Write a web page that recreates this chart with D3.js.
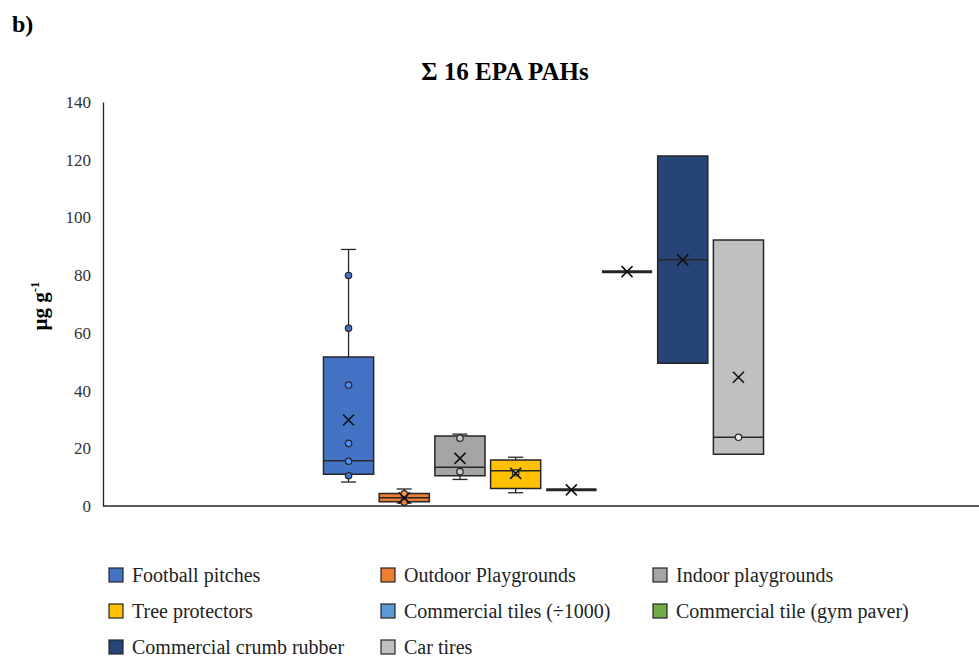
<!DOCTYPE html>
<html>
<head>
<meta charset="utf-8">
<script src="https://cdn.jsdelivr.net/npm/d3@7"></script>
<style>
  body { margin: 0; background: #fff; }
</style>
</head>
<body>
<script>
//chart data
var categories = ["Football pitches", "Outdoor Playgrounds", "Indoor playgrounds", "Tree protectors",
                  "Commercial tiles (\u00F71000)", "Commercial tile (gym paver)", "Commercial crumb rubber", "Car tires"];
var colors = ["#4472C4", "#ED7D31", "#A5A5A5", "#FFC000", "#5B9BD5", "#70AD47", "#264478", "#C0C0C0"];
var whiskerLow  = [8.3, 1.0, 9.2, 4.6, 5.6, 81.2, 49.5, 17.9];
var q1          = [11.0, 1.5, 10.5, 6.1, 5.6, 81.2, 49.5, 17.9];
var median      = [15.7, 2.9, 13.4, 12.2, 5.6, 81.2, 85.3, 23.8];
var q3          = [51.6, 4.3, 24.3, 15.9, 5.6, 81.2, 121.3, 92.2];
var whiskerHigh = [88.9, 5.9, 24.9, 16.9, 5.6, 81.2, 121.3, 92.2];
var means       = [29.8, 2.8, 16.5, 11.3, 5.6, 81.2, 85.3, 44.6];
var points      = [[79.9, 61.6, 41.9, 21.7, 15.5, 10.5], [4.2, 1.3], [23.5, 11.9], [11.5], [], [], [], [23.8]];
var yTicks = [0, 20, 40, 60, 80, 100, 120, 140];

window.onload = drawChart();

function drawChart(){

    var width = 979,
        height = 660;

    var plotLeft = 103, plotRight = 984, plotTop = 102, plotBottom = 506;
    var serif = "Liberation Serif";

    var svg = d3.select("body")
        .append("svg")
        .attr("width", width)
        .attr("height", height)
        .attr("font-family", serif);

    //y scale
    var y = d3.scaleLinear()
        .domain([0, 140])
        .range([plotBottom, plotTop]);

    //boxes grouped in the middle of the plot, like excel does
    var step = 55.7;
    var groupWidth = step * categories.length;
    var mid = (plotLeft + plotRight) / 2;
    var x = d3.scaleBand()
        .domain(categories)
        .range([mid - groupWidth / 2, mid + groupWidth / 2])
        .paddingInner(0.1)
        .paddingOuter(0.05);

    var boxW = x.bandwidth();
    var ink = "#262626";

    //label b)
    svg.append("text")
        .attr("x", 12)
        .attr("y", 32)
        .attr("font-family", serif)
        .attr("font-size", 24)
        .attr("font-weight", "bold")
        .text("b)");

    //title
    svg.append("text")
        .attr("x", 505)
        .attr("y", 80)
        .attr("text-anchor", "middle")
        .attr("font-family", serif)
        .attr("font-size", 25)
        .attr("font-weight", "bold")
        .text("\u03A3 16 EPA PAHs");

    //y axis
    var yAxis = d3.axisLeft(y)
        .tickValues(yTicks)
        .tickSize(0)
        .tickPadding(12);

    var gy = svg.append("g")
        .attr("transform", "translate(" + plotLeft + ",0)")
        .call(yAxis)
        .attr("font-family", serif)
        .attr("font-size", 17);
    gy.select(".domain").attr("stroke", ink).attr("stroke-width", 1.3);
    gy.selectAll("text").attr("fill", "#333");

    //x axis line
    svg.append("line")
        .attr("x1", plotLeft)
        .attr("x2", width)
        .attr("y1", y(0))
        .attr("y2", y(0))
        .attr("stroke", ink)
        .attr("stroke-width", 1.3);

    //y label
    var yl = svg.append("text")
        .attr("transform", "translate(47,306) rotate(-90)")
        .attr("text-anchor", "middle")
        .attr("font-family", serif)
        .attr("font-size", 21)
        .attr("font-weight", "bold");
    yl.append("tspan").text("\u00B5g g");
    yl.append("tspan").attr("dy", -8).attr("font-size", 13).text("-1");

    //boxes
    var boxes = svg.selectAll(".box")
        .data(categories)
        .enter()
        .append("g")
        .attr("class", "box")
        .attr("transform", function(d){ return "translate(" + (x(d) + boxW / 2) + ",0)"; });

    //whiskers
    boxes.append("line")
        .attr("y1", function(d, i){ return y(whiskerHigh[i]); })
        .attr("y2", function(d, i){ return y(q3[i]); })
        .attr("stroke", ink).attr("stroke-width", 1.3);
    boxes.append("line")
        .attr("y1", function(d, i){ return y(whiskerLow[i]); })
        .attr("y2", function(d, i){ return y(q1[i]); })
        .attr("stroke", ink).attr("stroke-width", 1.3);
    boxes.filter(function(d, i){ return whiskerHigh[i] > q3[i]; })
        .append("line")
        .attr("x1", -boxW * 0.15).attr("x2", boxW * 0.15)
        .attr("y1", function(d){ var i = categories.indexOf(d); return y(whiskerHigh[i]); })
        .attr("y2", function(d){ var i = categories.indexOf(d); return y(whiskerHigh[i]); })
        .attr("stroke", ink).attr("stroke-width", 1.3);
    boxes.filter(function(d, i){ return whiskerLow[i] < q1[i]; })
        .append("line")
        .attr("x1", -boxW * 0.15).attr("x2", boxW * 0.15)
        .attr("y1", function(d){ var i = categories.indexOf(d); return y(whiskerLow[i]); })
        .attr("y2", function(d){ var i = categories.indexOf(d); return y(whiskerLow[i]); })
        .attr("stroke", ink).attr("stroke-width", 1.3);

    //box body (path so a zero height box still shows)
    boxes.append("path")
        .attr("d", function(d, i){
            var top = y(q3[i]), bot = y(q1[i]);
            return "M" + (-boxW / 2) + "," + top + "H" + (boxW / 2) + "V" + bot + "H" + (-boxW / 2) + "Z";
        })
        .attr("fill", function(d, i){ return colors[i]; })
        .attr("stroke", ink)
        .attr("stroke-width", function(d, i){ return q3[i] === q1[i] ? 3 : 1.5; });

    //median
    boxes.append("line")
        .attr("x1", -boxW / 2).attr("x2", boxW / 2)
        .attr("y1", function(d, i){ return y(median[i]); })
        .attr("y2", function(d, i){ return y(median[i]); })
        .attr("stroke", ink).attr("stroke-width", 1.5);

    //data points
    boxes.each(function(d, i){
        d3.select(this).selectAll("circle")
            .data(points[i])
            .enter()
            .append("circle")
            .attr("cy", function(v){ return y(v); })
            .attr("r", 3.2)
            .attr("fill", function(v){ return (v > q3[i] || v < q1[i]) ? colors[i] : d3.color(colors[i]).brighter(0.6); })
            .attr("stroke", ink)
            .attr("stroke-width", 1.2);
    });

    //mean markers
    var s = 5.5;
    boxes.append("path")
        .attr("d", function(d, i){
            var m = y(means[i]);
            return "M" + (-s) + "," + (m - s) + "L" + s + "," + (m + s) + "M" + s + "," + (m - s) + "L" + (-s) + "," + (m + s);
        })
        .attr("stroke", "#111")
        .attr("stroke-width", 1.6)
        .attr("fill", "none");

    //legend
    var legCols = [108, 380, 652];
    var legRows = [575, 611, 647];
    var legend = svg.selectAll(".legend")
        .data(categories)
        .enter()
        .append("g")
        .attr("class", "legend")
        .attr("transform", function(d, i){
            return "translate(" + legCols[i % 3] + "," + legRows[Math.floor(i / 3)] + ")";
        });
    legend.append("rect")
        .attr("x", 1).attr("y", -7)
        .attr("width", 14).attr("height", 14)
        .attr("fill", function(d, i){ return colors[i]; })
        .attr("stroke", ink)
        .attr("stroke-width", 1.2);
    legend.append("text")
        .attr("x", 24)
        .attr("y", 7)
        .attr("font-family", serif)
        .attr("font-size", 20)
        .attr("fill", "#222")
        .text(function(d){ return d; });
};
</script>
</body>
</html>
